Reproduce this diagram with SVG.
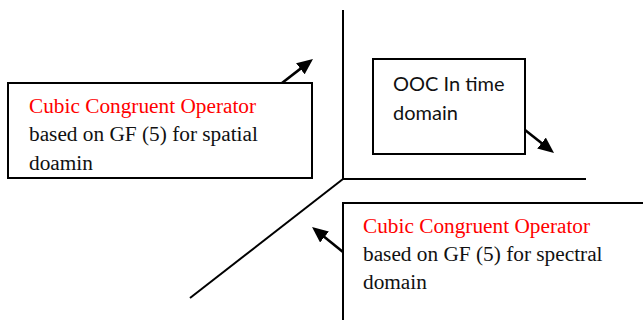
<svg xmlns="http://www.w3.org/2000/svg" width="643" height="320" viewBox="0 0 643 320">
  <style>
    .box { fill: #ffffff; stroke: #000000; stroke-width: 2; }
    .axis { fill: none; stroke: #000000; stroke-width: 2; }
    .arrow { fill: none; stroke: #000000; stroke-width: 2.6; marker-end: url(#head); }
    .serif { font-family: 'Liberation Serif', 'Times New Roman', serif; font-size: 21.3px; fill: #111111; }
    .red { fill: #ff0000; }
    .sans { font-family: Lato, 'Liberation Sans', sans-serif; font-size: 20px; fill: #111111; }
  </style>
  <defs>
    <marker id="head" markerUnits="userSpaceOnUse" markerWidth="16" markerHeight="14" viewBox="0 0 16 14" refX="6" refY="7" orient="auto">
      <path d="M0,0 L16,7 L0,14 z" fill="#000000"/>
    </marker>
    <clipPath id="spatialClip">
      <rect x="8" y="83" width="304" height="87"/>
    </clipPath>
  </defs>

  <rect width="643" height="320" fill="#ffffff"/>

  <!-- axes and connectors -->
  <g id="connectors">
    <line class="axis" x1="343" y1="10" x2="343" y2="179"/>
    <line class="axis" x1="342" y1="179" x2="586" y2="179"/>
    <line class="axis" x1="343" y1="179" x2="190" y2="298"/>
    <line class="arrow" x1="282" y1="83" x2="305.1" y2="65.1"/>
    <line class="arrow" x1="525" y1="130" x2="546.2" y2="146.8"/>
    <line class="arrow" x1="343" y1="252" x2="319.8" y2="233.3"/>
  </g>

  <!-- spatial domain operator (last line cut by the box) -->
  <g id="spatial">
    <rect class="box" x="8" y="83" width="304" height="95"/>
    <g clip-path="url(#spatialClip)">
      <text class="serif red" x="29" y="113">Cubic Congruent Operator</text>
      <text class="serif" x="29" y="141">based on GF (5) for spatial</text>
      <text class="serif" x="29" y="170">doamin</text>
    </g>
  </g>

  <!-- time domain -->
  <g id="time">
    <rect class="box" x="373" y="59" width="152" height="95"/>
    <text class="sans" x="393" y="91">OOC In time</text>
    <text class="sans" x="393" y="120">domain</text>
  </g>

  <!-- spectral domain operator (runs past the right and bottom edges) -->
  <g id="spectral">
    <rect class="box" x="343" y="203" width="320" height="130"/>
    <text class="serif red" x="363" y="233">Cubic Congruent Operator</text>
    <text class="serif" x="363" y="261">based on GF (5) for spectral</text>
    <text class="serif" x="363" y="289">domain</text>
  </g>
</svg>
